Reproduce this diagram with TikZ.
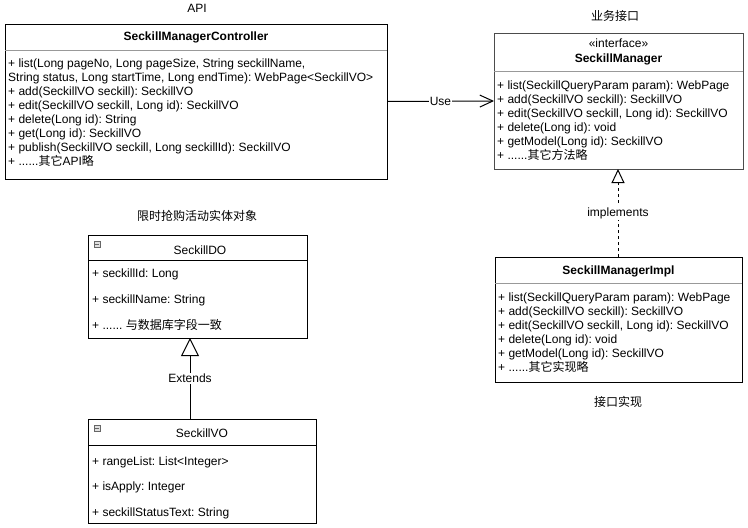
\documentclass[tikz,border=0pt]{standalone}
\usepackage{fontspec}
\setmainfont{Liberation Sans}
\newfontfamily\cjk{Noto Sans CJK SC}
\usetikzlibrary{arrows.meta}
\frenchspacing
\tikzset{
  classbox/.style={draw=black, line width=1pt, inner sep=0pt, outer sep=0pt, anchor=north west, fill=white},
  sepline/.style={draw=black!40, line width=1pt},
  sepdark/.style={draw=black, line width=1pt},
  txt/.style={anchor=base west, inner sep=0pt},
  ttl/.style={anchor=base, inner sep=0pt},
  lbl/.style={fill=white, inner sep=1pt, font=\fontsize{12}{14}\selectfont},
  conn/.style={draw=black, line width=1pt},
  icon/.style={draw=black!60, fill=black!12, line width=0.6pt, minimum width=6pt, minimum height=6pt, inner sep=0pt, anchor=north west}
}
\begin{document}
\begin{tikzpicture}[x=1pt, y=-1pt, font=\fontsize{12}{14}\selectfont]
\useasboundingbox (0,0) rectangle (748,528);

% ---------- headings ----------
\node[ttl] (hapi) at (197,12) {API};
\node[ttl] (hiface) at (615,20) {\cjk 业务接口};
\node[ttl] (hent) at (197,220) {\cjk 限时抢购活动实体对象};
\node[ttl] (himpl) at (618,406) {\cjk 接口实现};

% ---------- Controller ----------
\node[classbox, minimum width=382pt, minimum height=155pt] (ctrl) at (5,24) {};
\draw[sepline] (5,50) -- (387,50);
\node[ttl] (ctrlt) at (196,40) {\bfseries SeckillManagerController};
\node[txt] (c1) at (8,67) {+ list(Long pageNo, Long pageSize, String seckillName,};
\node[txt] (c2) at (8,81) {String status, Long startTime, Long endTime): WebPage<SeckillVO>};
\node[txt] (c3) at (8,95) {+ add(SeckillVO seckill): SeckillVO};
\node[txt] (c4) at (8,109) {+ edit(SeckillVO seckill, Long id): SeckillVO};
\node[txt] (c5) at (8,123) {+ delete(Long id): String};
\node[txt] (c6) at (8,137) {+ get(Long id): SeckillVO};
\node[txt] (c7) at (8,151) {+ publish(SeckillVO seckill, Long seckillId): SeckillVO};
\node[txt] (c8) at (8,165) {+ ......{\cjk 其它}API{\cjk 略}};

% ---------- Interface ----------
\node[classbox, draw=black!70, minimum width=249pt, minimum height=136pt] (iface) at (494,33) {};
\draw[sepline] (494,71) -- (743,71);
\node[ttl] (ifs) at (618.5,47) {«interface»};
\node[ttl] (ift) at (618.5,62) {\bfseries SeckillManager};
\node[txt] (i1) at (497,89) {+ list(SeckillQueryParam param): WebPage};
\node[txt] (i2) at (497,103) {+ add(SeckillVO seckill): SeckillVO};
\node[txt] (i3) at (497,117) {+ edit(SeckillVO seckill, Long id): SeckillVO};
\node[txt] (i4) at (497,131) {+ delete(Long id): void};
\node[txt] (i5) at (497,145) {+ getModel(Long id): SeckillVO};
\node[txt] (i6) at (497,159) {+ ......{\cjk 其它方法略}};

% ---------- Impl ----------
\node[classbox, minimum width=247pt, minimum height=125pt] (impl) at (495,257) {};
\draw[sepline] (495,283) -- (742,283);
\node[ttl] (implt) at (618.5,274) {\bfseries SeckillManagerImpl};
\node[txt] (m1) at (498,301) {+ list(SeckillQueryParam param): WebPage};
\node[txt] (m2) at (498,315) {+ add(SeckillVO seckill): SeckillVO};
\node[txt] (m3) at (498,329) {+ edit(SeckillVO seckill, Long id): SeckillVO};
\node[txt] (m4) at (498,343) {+ delete(Long id): void};
\node[txt] (m5) at (498,357) {+ getModel(Long id): SeckillVO};
\node[txt] (m6) at (498,371) {+ ......{\cjk 其它实现略}};

% ---------- SeckillDO ----------
\node[classbox, minimum width=219pt, minimum height=103pt] (do) at (88,235) {};
\draw[sepdark] (88,260) -- (307,260);
\node[icon] (doicon) at (94,241) {};
\draw[black!60, line width=0.6pt] (95.3,244) -- (98.7,244);
\node[ttl] (dot) at (200,254) {SeckillDO};
\node[txt] (d1) at (92,277) {+ seckillId: Long};
\node[txt] (d2) at (92,303) {+ seckillName: String};
\node[txt] (d3) at (92,329) {+ ...... {\cjk 与数据库字段一致}};

% ---------- SeckillVO ----------
\node[classbox, minimum width=228pt, minimum height=104pt] (vo) at (88,419) {};
\draw[sepdark] (88,445) -- (316,445);
\node[icon] (voicon) at (94,425) {};
\draw[black!60, line width=0.6pt] (95.3,428) -- (98.7,428);
\node[ttl] (vot) at (202,437) {SeckillVO};
\node[txt] (v1) at (92,465) {+ rangeList: List<Integer>};
\node[txt] (v2) at (92,490) {+ isApply: Integer};
\node[txt] (v3) at (92,516) {+ seckillStatusText: String};

% ---------- connectors ----------
\draw[conn, -{Straight Barb[length=13pt, width=12pt, line width=1pt]}] (ctrl.east) -- node[lbl] {Use} (iface.west);

\coordinate (impx) at (618,0);
\draw[conn, dash pattern=on 3pt off 3pt, -{Triangle[open, length=14pt, width=13pt, line width=1pt, fill=white]}]
  (impx |- impl.north) -- node[lbl, pos=0.5] {implements} (impx |- iface.south);

\coordinate (extx) at (190,0);
\draw[conn, -{Triangle[open, length=18pt, width=18pt, line width=1pt, fill=white]}]
  (extx |- vo.north) -- node[lbl, pos=0.5] {Extends} (extx |- do.south);
\end{tikzpicture}
\end{document}
